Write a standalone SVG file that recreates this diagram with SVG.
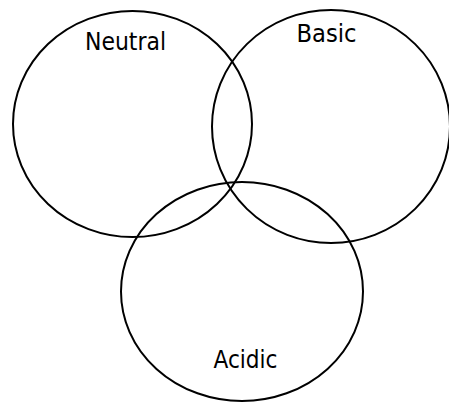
<svg xmlns="http://www.w3.org/2000/svg" width="449" height="403" viewBox="0 0 449 403">
<style>
.c{fill:none;stroke:#000;stroke-width:2}
.t{font-family:"DejaVu Sans Condensed","DejaVu Sans",sans-serif;font-stretch:condensed;font-size:24px;fill:#000}
</style>
<rect width="449" height="403" fill="#fff"/>
<g id="neutral">
<ellipse class="c" cx="132.5" cy="124" rx="119.5" ry="113"/>
<text class="t" x="85" y="49.5" textLength="81" lengthAdjust="spacingAndGlyphs">Neutral</text>
</g>
<g id="basic">
<ellipse class="c" cx="331" cy="126.5" rx="119" ry="116.5"/>
<text class="t" x="296.5" y="42" textLength="60" lengthAdjust="spacingAndGlyphs">Basic</text>
</g>
<g id="acidic">
<ellipse class="c" cx="242" cy="291.5" rx="121" ry="109.5"/>
<text class="t" x="213.5" y="367.5" textLength="64" lengthAdjust="spacingAndGlyphs">Acidic</text>
</g>
<g id="connectors"/>
</svg>
